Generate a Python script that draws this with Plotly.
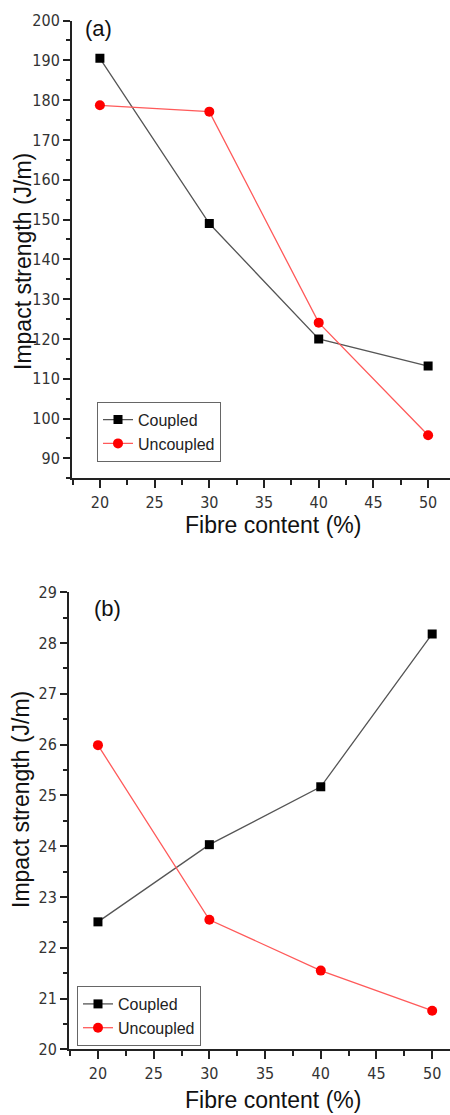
import plotly.graph_objects as go

fibre = [20, 30, 40, 50]
coupled_a = [190.5, 149.0, 120.0, 113.2]
uncoupled_a = [178.7, 177.1, 124.1, 95.8]
coupled_b = [22.51, 24.03, 25.17, 28.18]
uncoupled_b = [25.99, 22.55, 21.55, 20.76]

W, H = 450, 1115
TICKFONT = dict(family="Liberation Sans Narrow, Arial Narrow, DejaVu Sans Condensed, sans-serif", size=16, color="#333")
TITLEFONT = dict(family="Liberation Sans, Arial, sans-serif", size=23, color="#111")
LEGFONT = dict(family="Liberation Sans, Arial, sans-serif", size=16, color="#222")

def px_x(x):
    return x / W

def px_y(y):
    return 1 - y / H

fig = go.Figure()

def add_pair(xa, ya, c, u, legend):
    fig.add_trace(go.Scatter(x=fibre, y=c, mode="lines+markers", name="Coupled",
                             xaxis=xa, yaxis=ya, legend=legend,
                             line=dict(color="#555", width=1.3),
                             marker=dict(symbol="square", size=9, color="black")))
    fig.add_trace(go.Scatter(x=fibre, y=u, mode="lines+markers", name="Uncoupled",
                             xaxis=xa, yaxis=ya, legend=legend,
                             line=dict(color="#ff5a5a", width=1.3),
                             marker=dict(symbol="circle", size=10, color="#ff0000")))

add_pair("x", "y", coupled_a, uncoupled_a, "legend")
add_pair("x2", "y2", coupled_b, uncoupled_b, "legend2")

def xaxis(domain, rng, anchor):
    return dict(domain=domain, range=rng, anchor=anchor, showline=True, linecolor="#222", linewidth=2,
                ticks="outside", ticklen=8, tickwidth=1.5, tickcolor="#222", dtick=5, tick0=20,
                tickfont=TICKFONT, showgrid=False, zeroline=False, automargin=False,
                minor=dict(ticks="outside", ticklen=5, dtick=2.5, tick0=20, tickwidth=1.5, tickcolor="#222", showgrid=False))

def yaxis(domain, rng, anchor, dt, mdt, t0):
    return dict(domain=domain, range=rng, anchor=anchor, showline=True, linecolor="#222", linewidth=2,
                ticks="outside", ticklen=7, tickwidth=1.5, tickcolor="#222", dtick=dt, tick0=t0,
                tickfont=TICKFONT, showgrid=False, zeroline=False, automargin=False,
                minor=dict(ticks="outside", ticklen=4, dtick=mdt, tick0=t0, tickwidth=1.5, tickcolor="#222", showgrid=False))

fig.update_layout(
    width=W, height=H,
    margin=dict(l=0, r=0, t=0, b=0),
    paper_bgcolor="white", plot_bgcolor="white",
    xaxis=xaxis([px_x(72), 1.0], [17.45, 52.0], "y"),
    yaxis=yaxis([px_y(478.3), px_y(20.5)], [85, 200], "x", 10, 5, 0),
    xaxis2=xaxis([px_x(69), 1.0], [17.4, 51.6], "y2"),
    yaxis2=yaxis([px_y(1049.3), px_y(592.3)], [20, 29], "x2", 1, 0.5, 0),
    legend=dict(x=px_x(97), y=px_y(401.7), xanchor="left", yanchor="top", font=LEGFONT,
                bordercolor="#666", borderwidth=1, bgcolor="rgba(255,255,255,0)", tracegroupgap=0),
    legend2=dict(x=px_x(77), y=px_y(986), xanchor="left", yanchor="top", font=LEGFONT,
                 bordercolor="#666", borderwidth=1, bgcolor="rgba(255,255,255,0)", tracegroupgap=0),
    showlegend=True,
)

annots = [
    dict(text="(a)", x=px_x(98), y=px_y(29), font=dict(family="Liberation Sans, Arial", size=22, color="#111")),
    dict(text="(b)", x=px_x(107), y=px_y(608), font=dict(family="Liberation Sans, Arial", size=22, color="#111")),
    dict(text="Fibre content (%)", x=px_x(273), y=px_y(525), font=TITLEFONT),
    dict(text="Fibre content (%)", x=px_x(273), y=px_y(1100), font=TITLEFONT),
    dict(text="Impact strength (J/m)", x=px_x(23), y=px_y(262), font=TITLEFONT, textangle=-90),
    dict(text="Impact strength (J/m)", x=px_x(21), y=px_y(800), font=TITLEFONT, textangle=-90),
]
for a in annots:
    fig.add_annotation(xref="paper", yref="paper", showarrow=False, xanchor="center", yanchor="middle", **a)

fig.write_html("out.html")
